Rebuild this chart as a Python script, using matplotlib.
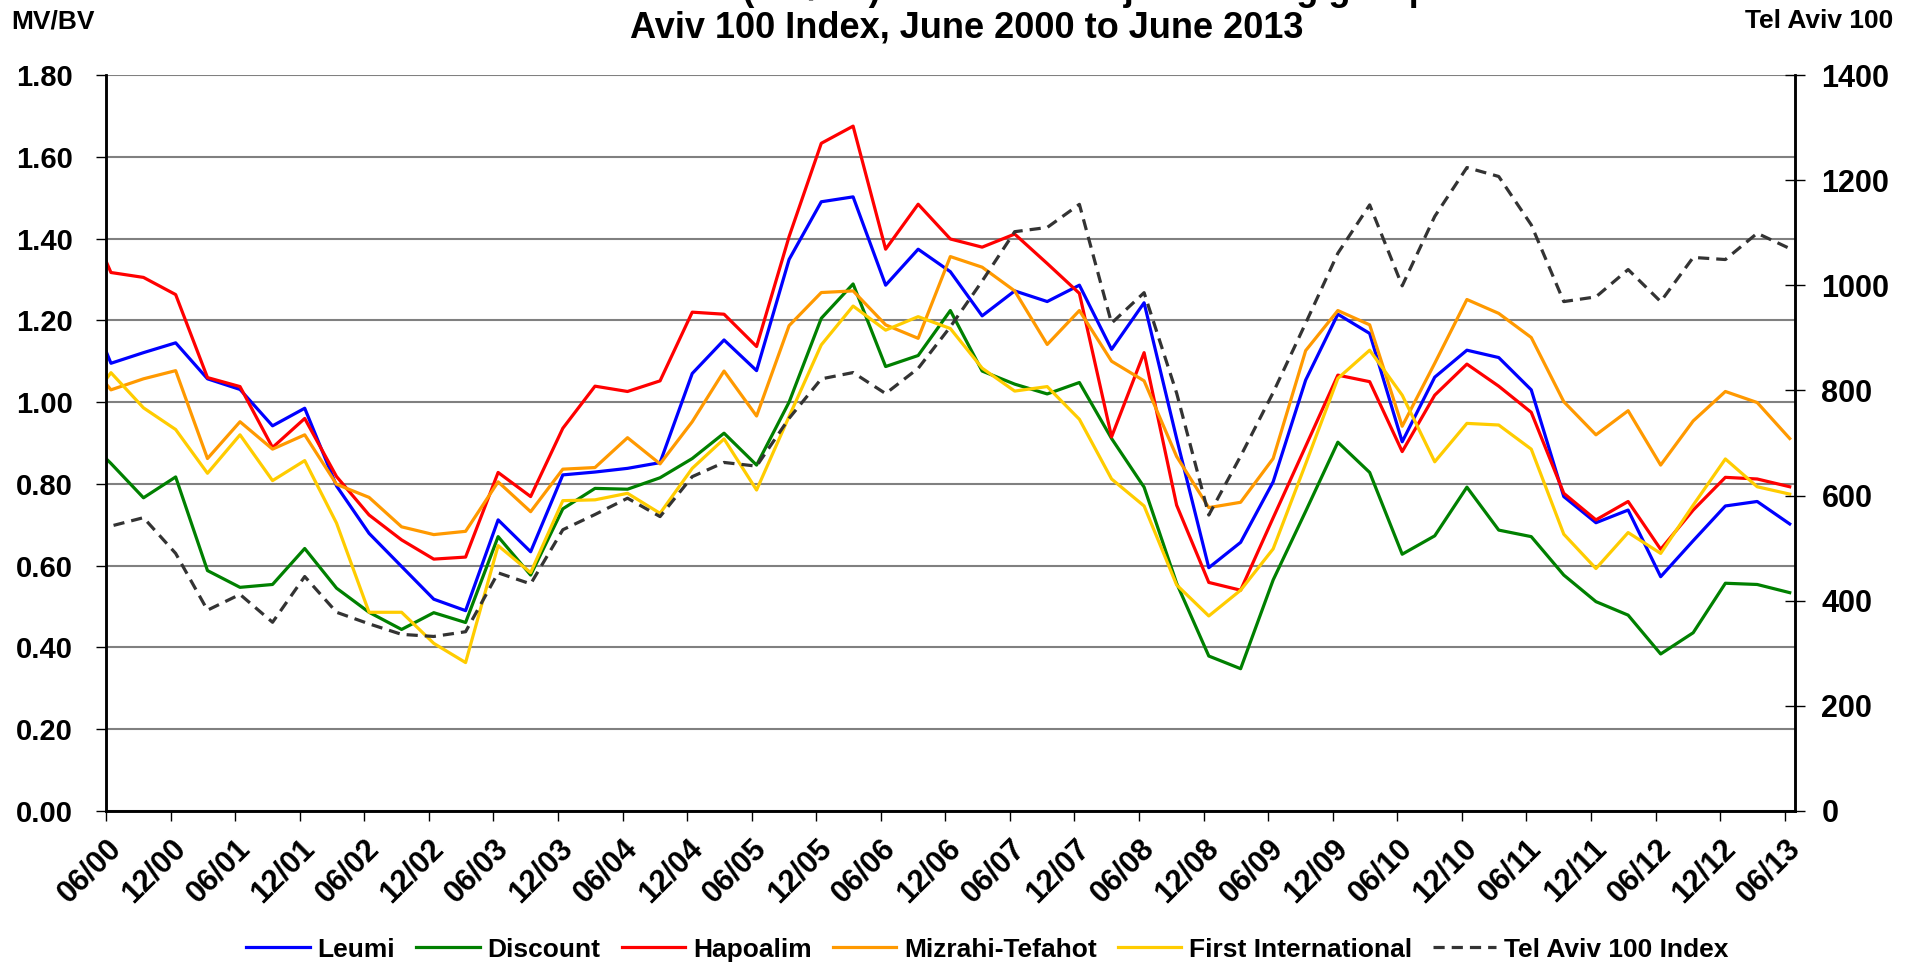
import matplotlib
matplotlib.use("Agg")
import matplotlib.pyplot as plt
import pandas as pd

# quarterly observations, first one (03/00) only shows as the stub at the left edge
dates = pd.date_range("2000-03-01", periods=54, freq="QS-MAR") + pd.Timedelta(days=14)

leumi = [1.29, 1.095, 1.121, 1.145, 1.057, 1.031, 0.942, 0.985, 0.795, 0.679, 0.598, 0.518, 0.490,
         0.712, 0.634, 0.822, 0.829, 0.838, 0.852, 1.070, 1.152, 1.077, 1.349, 1.490, 1.502, 1.286,
         1.374, 1.319, 1.211, 1.272, 1.246, 1.286, 1.129, 1.243, 0.911, 0.595, 0.657, 0.805, 1.054,
         1.215, 1.168, 0.903, 1.061, 1.127, 1.109, 1.030, 0.769, 0.705, 0.736, 0.573, 0.661, 0.746,
         0.757, 0.702]
discount = [0.928, 0.85, 0.766, 0.817, 0.588, 0.547, 0.554, 0.642, 0.545, 0.486, 0.444, 0.485, 0.461,
            0.671, 0.577, 0.739, 0.789, 0.787, 0.815, 0.862, 0.924, 0.846, 1.00, 1.205, 1.289, 1.087,
            1.114, 1.224, 1.076, 1.044, 1.020, 1.048, 0.911, 0.792, 0.557, 0.379, 0.348, 0.565, 0.733,
            0.902, 0.828, 0.628, 0.673, 0.792, 0.687, 0.671, 0.577, 0.512, 0.479, 0.384, 0.436, 0.557,
            0.554, 0.534]
hapoalim = [1.50, 1.317, 1.305, 1.263, 1.060, 1.038, 0.889, 0.960, 0.818, 0.724, 0.663, 0.616, 0.621,
            0.828, 0.769, 0.936, 1.039, 1.026, 1.052, 1.220, 1.215, 1.136, 1.405, 1.633, 1.675, 1.374,
            1.484, 1.399, 1.379, 1.411, 1.339, 1.266, 0.915, 1.121, 0.748, 0.559, 0.540, 0.717, 0.892,
            1.066, 1.050, 0.879, 1.017, 1.093, 1.039, 0.975, 0.777, 0.712, 0.757, 0.640, 0.736, 0.816,
            0.812, 0.793]
mizrahi = [1.128, 1.030, 1.057, 1.077, 0.862, 0.952, 0.885, 0.920, 0.799, 0.767, 0.695, 0.676, 0.684,
           0.805, 0.732, 0.836, 0.840, 0.913, 0.849, 0.952, 1.076, 0.966, 1.187, 1.268, 1.272, 1.189,
           1.156, 1.356, 1.330, 1.272, 1.141, 1.224, 1.100, 1.052, 0.867, 0.742, 0.755, 0.862, 1.126,
           1.224, 1.189, 0.941, 1.095, 1.251, 1.217, 1.158, 1.001, 0.920, 0.979, 0.846, 0.954, 1.026,
           0.999, 0.911]
first_intl = [0.964, 1.072, 0.986, 0.933, 0.826, 0.920, 0.808, 0.857, 0.704, 0.486, 0.486, 0.410, 0.363,
              0.649, 0.583, 0.759, 0.761, 0.777, 0.728, 0.838, 0.910, 0.785, 0.965, 1.140, 1.235, 1.176,
              1.209, 1.180, 1.083, 1.027, 1.038, 0.958, 0.812, 0.746, 0.553, 0.477, 0.540, 0.641, 0.849,
              1.058, 1.127, 1.017, 0.854, 0.948, 0.944, 0.885, 0.677, 0.593, 0.681, 0.630, 0.748, 0.861,
              0.793, 0.775]
ta100 = [525, 542, 558, 490, 382, 412, 359, 446, 378, 356, 336, 332, 341, 453, 432, 535, 564, 595, 560,
         636, 663, 656, 747, 822, 834, 794, 842, 921, 1008, 1102, 1110, 1154, 928, 986, 795, 563, 675,
         796, 928, 1061, 1153, 999, 1131, 1224, 1207, 1115, 969, 978, 1030, 969, 1053, 1049, 1099, 1070]

bank_names = ["Leumi", "Discount", "Hapoalim", "Mizrahi-Tefahot", "First International"]
bank_colors = ["#0000FF", "#008000", "#FF0000", "#FF9900", "#FFCC00"]
tick_dates = pd.date_range("2000-06-01", "2013-06-01", freq="6MS")

plt.rcParams["font.family"] = ["Liberation Sans", "DejaVu Sans"]
plt.rcParams["font.weight"] = "bold"

fig, ax = plt.subplots(figsize=(19.1, 9.68), dpi=100)
fig.subplots_adjust(left=0.0555, right=0.9398, top=0.9225, bottom=0.1622)
ax2 = ax.twinx()

handles = []
for vals, name, col in zip([leumi, discount, hapoalim, mizrahi, first_intl], bank_names, bank_colors):
    h, = ax.plot(dates, vals, color=col, lw=2.3, label=name)
    handles.append(h)
h, = ax2.plot(dates, ta100, color="#333333", lw=2.3, ls=(0, (3.5, 2.2)), label="Tel Aviv 100 Index")
handles.append(h)

ax.set_ylim(0, 1.8)
ax.set_yticks([i * 0.2 for i in range(10)])
ax.set_yticklabels(["%.2f" % (i * 0.2) for i in range(10)])
ax2.set_ylim(0, 1400)
ax2.set_yticks(range(0, 1401, 200))

ax.set_xlim(pd.Timestamp("2000-06-01"), pd.Timestamp("2013-06-30"))
ax.set_xticks(tick_dates)
ax.set_xticklabels([d.strftime("%m/%y") for d in tick_dates], rotation=45, ha="right",
                   va="top", rotation_mode="anchor")

ax.grid(axis="y", color="#808080", lw=1.5)
ax.set_axisbelow(True)
ax.tick_params(axis="y", direction="out", length=7, width=1, labelsize=21, pad=17)
ax.tick_params(axis="x", direction="out", length=7, width=1, labelsize=22, pad=9)
ax2.tick_params(axis="y", direction="inout", length=14, width=1, labelsize=22, pad=12)

for a in (ax, ax2):
    a.spines["top"].set_visible(False)
    for s in ("left", "right", "bottom"):
        a.spines[s].set_linewidth(1.8)
        a.spines[s].set_color("black")

# first title line is cut off by the top edge in the original, only its descenders show
fig.text(0.506, 1.0005, "Market to book value ratio (MV/BV) of the five major banking groups and the Tel",
         ha="center", va="baseline", fontsize=26, fontweight="bold")
fig.text(0.506, 0.971, "Aviv 100 Index, June 2000 to June 2013", ha="center", va="center",
         fontsize=26, fontweight="bold")
fig.text(0.006, 0.978, "MV/BV", ha="left", va="center", fontsize=19, fontweight="bold")
fig.text(0.991, 0.978, "Tel Aviv 100", ha="right", va="center", fontsize=19, fontweight="bold")

fig.legend(handles=handles, loc="center", bbox_to_anchor=(0.517, 0.019), ncol=6, frameon=False,
           fontsize=19, handlelength=2.4, handletextpad=0.3, columnspacing=0.8)

fig.savefig("out.png", dpi=100)
